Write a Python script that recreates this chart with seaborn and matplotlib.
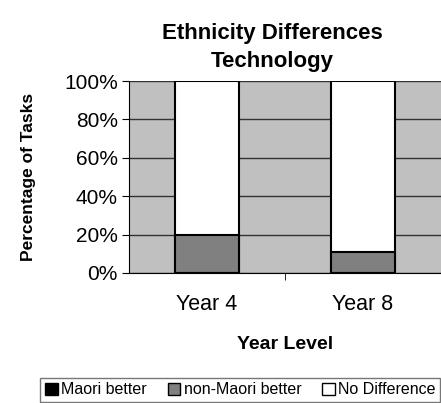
import matplotlib.pyplot as plt
from matplotlib.patches import Patch
import seaborn as sns
import pandas as pd

years = ["Year 4", "Year 8"]
maori_better = [0, 0]
non_maori_better = [20, 11]
no_difference = [80, 89]

sns.set_style("white")
plt.rcParams['font.family'] = ['Liberation Sans', 'DejaVu Sans']
plt.rcParams['text.color'] = 'black'
plt.rcParams['axes.labelcolor'] = 'black'
plt.rcParams['xtick.color'] = 'black'
plt.rcParams['ytick.color'] = 'black'

df = pd.DataFrame({"year": years, "maori": maori_better,
                   "non": non_maori_better, "none": no_difference})
df["cum_non"] = df["maori"] + df["non"]
df["cum_all"] = df["cum_non"] + df["none"]

fig = plt.figure(figsize=(4.41, 4.03), dpi=100)
ax = fig.add_axes([0.2925, 0.3226, 0.7075, 0.4764])
ax.set_facecolor("#c0c0c0")

# stacked bars, back to front
sns.barplot(data=df, x="year", y="cum_all", color="white", width=0.41,
            edgecolor="black", linewidth=1.5, saturation=1, ax=ax)
sns.barplot(data=df, x="year", y="cum_non", color="#808080", width=0.41,
            edgecolor="black", linewidth=1.5, saturation=1, ax=ax)
sns.barplot(data=df, x="year", y="maori", color="black", width=0.41,
            edgecolor="black", linewidth=1.5, saturation=1, ax=ax)

ax.set_ylim(0, 100)
ax.set_xlim(-0.5, 1.5)
ax.set_yticks([0, 20, 40, 60, 80, 100])
ax.set_yticklabels([f"{v}%" for v in range(0, 101, 20)], fontsize=15)
ax.yaxis.grid(True, color="#333333", linewidth=1)
ax.set_axisbelow(True)
ax.set_xticks([0, 1])
ax.set_xticks([0.5], minor=True)
ax.tick_params(axis="x", labelsize=15.5, length=0, pad=15)
ax.tick_params(axis="x", which="minor", bottom=True, length=5, color="black")
ax.tick_params(axis="y", left=True, length=5, color="black", pad=3)
for s in ["top", "right"]:
    ax.spines[s].set_visible(False)
ax.spines["left"].set_color("black")
ax.spines["bottom"].set_color("black")

ax.set_xlabel("Year Level", fontsize=14, fontweight="bold", labelpad=15)
ax.set_ylabel("Percentage of Tasks", fontsize=12.5, fontweight="bold", labelpad=20)
fig.text(272 / 441, 1 - 67 / 403, "Ethnicity Differences\nTechnology",
         ha="center", va="baseline", fontsize=16, fontweight="bold",
         linespacing=1.45, multialignment="center")

handles = [Patch(facecolor="black", edgecolor="black"),
           Patch(facecolor="#808080", edgecolor="black"),
           Patch(facecolor="white", edgecolor="black")]
leg = fig.legend(handles, ["Maori better", "non-Maori better", "No Difference"],
                 loc="lower right", bbox_to_anchor=(1.0, 0.0), ncol=3,
                 fontsize=11.5, frameon=True, fancybox=False, handlelength=0.8,
                 handleheight=0.8, handletextpad=0.2, columnspacing=1.3,
                 borderpad=0.3, borderaxespad=0.05)
leg.get_frame().set_edgecolor("#555555")

fig.savefig("out.png", dpi=100)
